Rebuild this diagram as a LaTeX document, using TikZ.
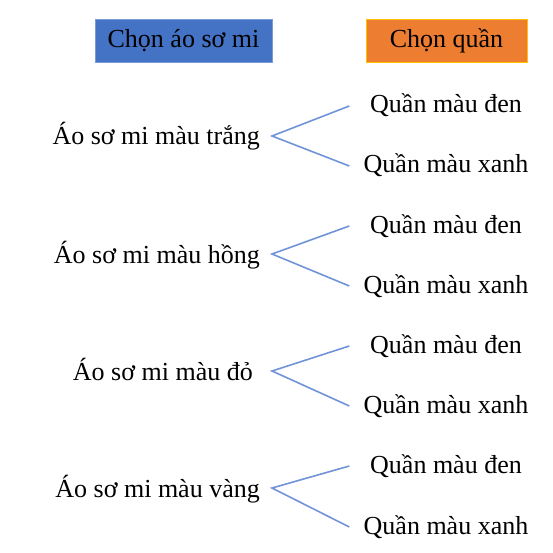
\documentclass[tikz,border=0pt]{standalone}
\usepackage{xcolor}
\usepackage{fontspec}
\setmainfont{Liberation Serif}
\usepackage{tikz}
\definecolor{hdrblue}{HTML}{4472C4}
\definecolor{hdrblueline}{HTML}{7A9AD8}
\definecolor{hdrorange}{HTML}{ED7D31}
\definecolor{hdrgold}{HTML}{FFC000}
\definecolor{branchline}{HTML}{7193D8}
\tikzset{
  hdr/.style={minimum height=43pt, inner sep=0pt, text height=15pt, text depth=0pt, line width=0.9pt},
  shirt/.style={anchor=base east, inner xsep=12pt, inner ysep=0pt, text height=18pt, text depth=0pt},
  pants/.style={anchor=base, minimum width=193pt, inner sep=0pt, text height=14pt, text depth=0pt},
  branch/.style={draw=branchline, line width=1.6pt}
}
\begin{document}
\begin{tikzpicture}[x=1pt,y=-1pt,font=\fontsize{26}{30}\selectfont]
\useasboundingbox (0,0) rectangle (553,553);
\draw
(183.5,40.5) node [hdr, minimum width=177pt, fill=hdrblue, draw=hdrblueline] (hshirt) {Chọn áo sơ mi}
(446.5,40.5) node [hdr, minimum width=161pt, fill=hdrorange, draw=hdrgold] (hpants) {Chọn quần}
(272,145) node [shirt] (s1) {Áo sơ mi màu trắng}
  (446,113) node [pants] (s1a) {Quần màu đen}
  (446,173) node [pants] (s1b) {Quần màu xanh}
(272,263) node [shirt] (s2) {Áo sơ mi màu hồng}
  (446,233) node [pants] (s2a) {Quần màu đen}
  (446,293) node [pants] (s2b) {Quần màu xanh}
(272,380) node [shirt, inner xsep=19pt] (s3) {Áo sơ mi màu đỏ}
  (446,353) node [pants] (s3a) {Quần màu đen}
  (446,413) node [pants] (s3b) {Quần màu xanh}
(272,497) node [shirt] (s4) {Áo sơ mi màu vàng}
  (446,473) node [pants] (s4a) {Quần màu đen}
  (446,534) node [pants] (s4b) {Quần màu xanh};
\draw[branch] (s1a.west) -- (s1.east) -- (s1b.west);
\draw[branch] (s2a.west) -- (s2.east) -- (s2b.west);
\draw[branch] (s3a.west) -- (s3.east) -- (s3b.west);
\draw[branch] (s4a.west) -- (s4.east) -- (s4b.west);
\end{tikzpicture}
\end{document}
